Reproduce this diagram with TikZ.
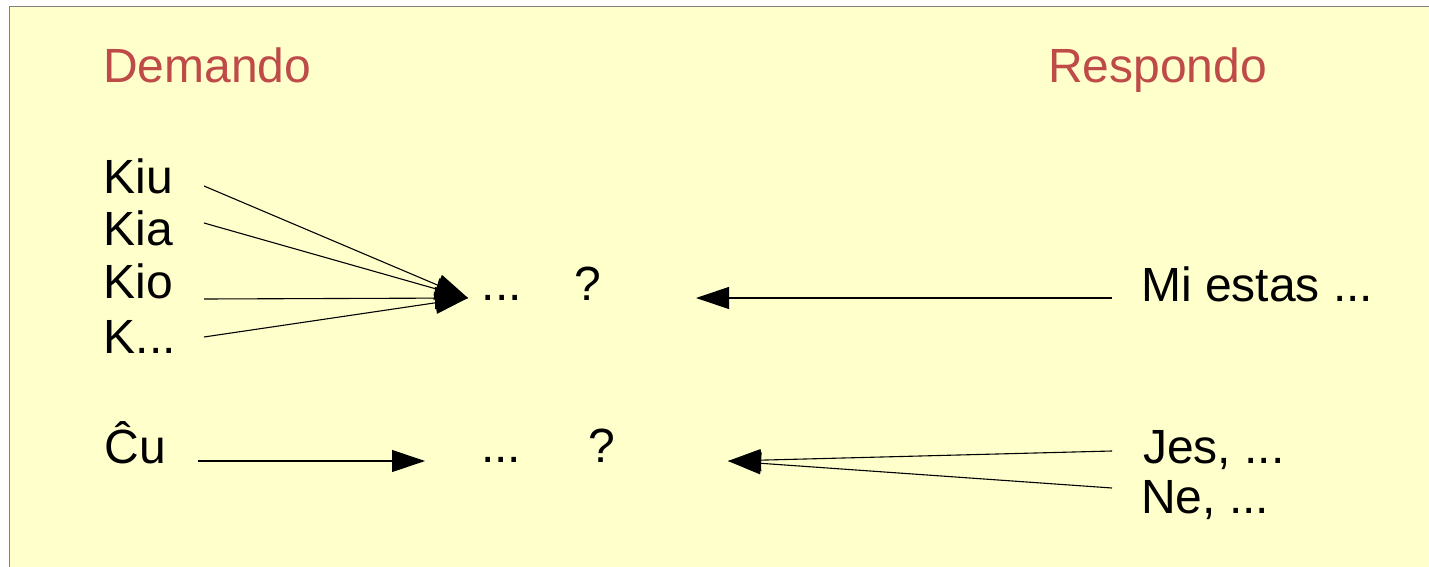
\documentclass[tikz,border=0pt]{standalone}
\usepackage{fontspec}
\setmainfont{Liberation Sans}
\usetikzlibrary{arrows.meta}
\definecolor{pad}{RGB}{255,255,204}
\definecolor{head}{RGB}{190,75,72}
\tikzset{
    txt/.style={anchor=base west,inner sep=0pt,font=\fontsize{48}{58}\selectfont},
    title/.style={txt,text=head},
    arr/.style={line width=1.1pt,-{Triangle[length=33pt,width=22pt]}}
}
\begin{document}
\begin{tikzpicture}[x=1pt,y=-1pt]
        \useasboundingbox (0,0) rectangle (1429,567);
        %% sheet
        \fill[white] (0,0) rectangle (1429,567);
        \draw[fill=pad,draw=gray,line width=1.2pt] (9.5,6.5) rectangle (1450,590);
        %% headings
        \node[title] (dem) at (103,83) {Demando};
        \node[title] (res) at (1048,83) {Respondo};
        %% questions
        \node[txt] (kiu) at (103.5,193) {Kiu};
        \node[txt] (kia) at (103.5,245) {Kia};
        \node[txt] (kio) at (103.5,298) {Kio};
        \node[txt] (kx) at (103.5,353) {K...};
        \node[txt] (cu) at (104.5,463) {Ĉu};
        %% middle
        \node[txt] (dA) at (481.5,300) {...};
        \node[txt] (qA) at (574.5,300) {?};
        \node[txt] (dB) at (481,462) {...};
        \node[txt] (qB) at (588.5,462) {?};
        %% answers
        \node[txt] (mi) at (1141,301) {Mi estas ...};
        \node[txt] (jes) at (1143,463) {Jes, ...};
        \node[txt] (ne) at (1141,513) {Ne, ...};
        %% arrow ends
        \coordinate (kiu-t) at (204,186);
        \coordinate (kia-t) at (204,223);
        \coordinate (kio-t) at (204,299);
        \coordinate (kx-t) at (204,337);
        \coordinate (tipA) at (468,298);
        \coordinate (mi-t) at (1112,298);
        \coordinate (tipR) at (696,298);
        \coordinate (cu-t) at (198,461);
        \coordinate (tipB) at (425,461);
        \coordinate (jes-t) at (1112,451);
        \coordinate (ne-t) at (1112,488);
        \coordinate (tipS) at (728,461);
        %% connectors
        \foreach \n in {kiu,kia,kio,kx}
            \draw[arr] (\n-t) -- (tipA);
        \draw[arr] (mi-t) -- (tipR);
        \draw[arr] (cu-t) -- (tipB);
        \foreach \n in {jes,ne}
            \draw[arr] (\n-t) -- (tipS);
\end{tikzpicture}
\end{document}
